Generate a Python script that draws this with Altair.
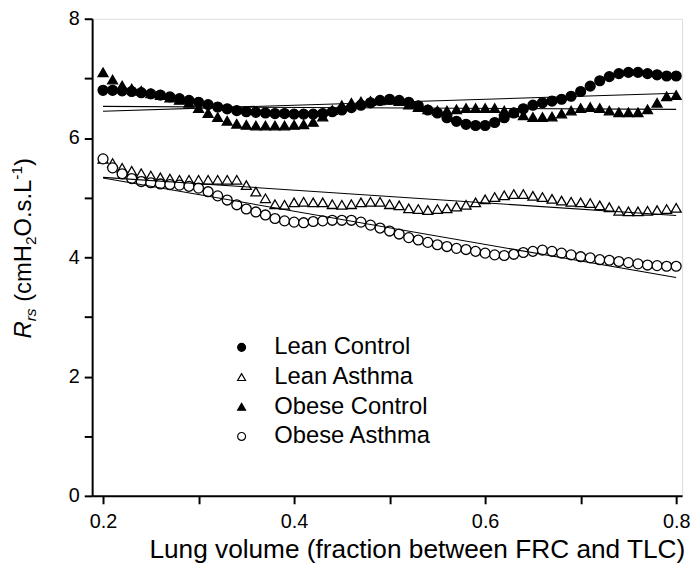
import altair as alt
import pandas as pd

# ---------------- data ----------------
lung_volume = [0.20, 0.21, 0.22, 0.23, 0.24, 0.25, 0.26, 0.27, 0.28, 0.29,
               0.30, 0.31, 0.32, 0.33, 0.34, 0.35, 0.36, 0.37, 0.38, 0.39,
               0.40, 0.41, 0.42, 0.43, 0.44, 0.45, 0.46, 0.47, 0.48, 0.49,
               0.50, 0.51, 0.52, 0.53, 0.54, 0.55, 0.56, 0.57, 0.58, 0.59,
               0.60, 0.61, 0.62, 0.63, 0.64, 0.65, 0.66, 0.67, 0.68, 0.69,
               0.70, 0.71, 0.72, 0.73, 0.74, 0.75, 0.76, 0.77, 0.78, 0.79,
               0.80]

lean_control = [6.80, 6.80, 6.79, 6.78, 6.76, 6.74, 6.72, 6.69, 6.66, 6.63,
                6.60, 6.56, 6.52, 6.49, 6.46, 6.44, 6.43, 6.42, 6.41, 6.41,
                6.40, 6.40, 6.40, 6.41, 6.44, 6.47, 6.51, 6.55, 6.59, 6.63,
                6.65, 6.63, 6.60, 6.54, 6.47, 6.42, 6.34, 6.28, 6.23, 6.21,
                6.21, 6.26, 6.34, 6.42, 6.49, 6.55, 6.59, 6.62, 6.65, 6.70,
                6.78, 6.87, 6.96, 7.03, 7.08, 7.10, 7.10, 7.08, 7.06, 7.04,
                7.04]

lean_asthma = [5.65, 5.58, 5.50, 5.45, 5.41, 5.37, 5.34, 5.32, 5.30, 5.30,
               5.30, 5.30, 5.30, 5.30, 5.30, 5.21, 5.10, 4.99, 4.89, 4.88,
               4.92, 4.93, 4.92, 4.92, 4.89, 4.88, 4.89, 4.92, 4.93, 4.93,
               4.89, 4.87, 4.82, 4.81, 4.79, 4.81, 4.82, 4.85, 4.88, 4.92,
               4.97, 5.01, 5.04, 5.06, 5.06, 5.03, 5.01, 4.98, 4.95, 4.93,
               4.92, 4.91, 4.87, 4.84, 4.78, 4.77, 4.77, 4.78, 4.79, 4.81,
               4.83]

obese_control = [7.10, 6.98, 6.88, 6.83, 6.79, 6.75, 6.72, 6.68, 6.64, 6.59,
                 6.50, 6.42, 6.35, 6.29, 6.24, 6.22, 6.21, 6.21, 6.21, 6.21,
                 6.22, 6.23, 6.27, 6.36, 6.47, 6.55, 6.59, 6.61, 6.62, 6.63,
                 6.64, 6.62, 6.56, 6.52, 6.48, 6.46, 6.46, 6.48, 6.50, 6.50,
                 6.50, 6.50, 6.46, 6.43, 6.38, 6.35, 6.35, 6.36, 6.41, 6.46,
                 6.50, 6.52, 6.50, 6.46, 6.43, 6.43, 6.43, 6.48, 6.59, 6.70,
                 6.72]

obese_asthma = [5.65, 5.50, 5.40, 5.32, 5.27, 5.25, 5.23, 5.22, 5.21, 5.19,
                5.16, 5.10, 5.03, 4.96, 4.88, 4.81, 4.76, 4.71, 4.65, 4.61,
                4.59, 4.58, 4.60, 4.61, 4.62, 4.62, 4.62, 4.59, 4.54, 4.49,
                4.44, 4.39, 4.33, 4.29, 4.25, 4.21, 4.18, 4.15, 4.13, 4.10,
                4.07, 4.04, 4.03, 4.05, 4.08, 4.10, 4.12, 4.10, 4.07, 4.04,
                4.01, 3.99, 3.96, 3.95, 3.93, 3.91, 3.89, 3.87, 3.86, 3.85,
                3.85]

series_names = ["Lean Control", "Lean Asthma", "Obese Control", "Obese Asthma"]
series_shapes = ["circle", "triangle-up", "triangle-up", "circle"]
series_fills = ["black", "white", "black", "white"]
series_strokes = ["black", "black", "black", "black"]

# regression lines (end points)
fit_x = [0.20, 0.80]
fit_lean_control = [6.45, 6.75]
fit_lean_asthma = [5.34, 4.70]
fit_obese_control = [6.53, 6.48]
fit_obese_asthma = [5.33, 3.66]

x_ticks = [0.2, 0.3, 0.4, 0.5, 0.6, 0.7, 0.8]
y_ticks = [0, 1, 2, 3, 4, 5, 6, 7, 8]

# ---------------- tables ----------------
all_series = [lean_control, lean_asthma, obese_control, obese_asthma]
rows = []
for name, vals in zip(series_names, all_series):
    for xv, yv in zip(lung_volume, vals):
        rows.append({"x": xv, "y": yv, "group": name})
pts = pd.DataFrame(rows)

fits_all = [fit_lean_control, fit_lean_asthma, fit_obese_control, fit_obese_asthma]
frows = []
for name, vals in zip(series_names, fits_all):
    for xv, yv in zip(fit_x, vals):
        frows.append({"x": xv, "y": yv, "group": name})
fits = pd.DataFrame(frows)

FONT = "Liberation Sans"

xscale = alt.Scale(domain=[0.1886, 0.8062], nice=False, zero=False)
yscale = alt.Scale(domain=[0, 8], nice=False, zero=False)

x_axis = alt.Axis(
    values=x_ticks,
    labelExpr="round(datum.value*10) % 2 == 0 ? format(datum.value, '.1f') : ''",
    grid=False, tickSize=8, tickWidth=2, tickColor="black",
    domainWidth=2, domainColor="black",
    labelFont=FONT, labelFontSize=20, labelColor="black", labelPadding=8,
    labelFlush=False, labelOverlap=False,
    title="Lung volume (fraction between FRC and TLC)",
    titleFont=FONT, titleFontSize=26.5, titleFontWeight="normal", titleColor="black",
    titleX=328, titleY=62, titleAlign="center", titleBaseline="alphabetic",
    titleAnchor="start",
)
y_axis = alt.Axis(
    values=y_ticks,
    labelExpr="datum.value % 2 == 0 ? datum.value : ''",
    grid=False, tickSize=8, tickWidth=2, tickColor="black",
    domainWidth=2, domainColor="black",
    labelFont=FONT, labelFontSize=20, labelColor="black", labelPadding=5,
    labelFlush=False, labelOverlap=False,
    title=None,
)

legend_kw = dict(
    title=None, orient="none", legendX=139, legendY=320,
    symbolSize=64, labelFontSize=24, labelFont=FONT, labelColor="black",
    labelOffset=21, rowPadding=6, padding=0,
    symbolStrokeColor="black", symbolStrokeWidth=1.2,
)

points = alt.Chart(pts).mark_point(
    filled=True, size=100, strokeWidth=1.3, opacity=1
).encode(
    x=alt.X("x:Q", scale=xscale, axis=x_axis),
    y=alt.Y("y:Q", scale=yscale, axis=y_axis),
    shape=alt.Shape("group:N",
                    scale=alt.Scale(domain=series_names, range=series_shapes),
                    legend=alt.Legend(**legend_kw)),
    fill=alt.Fill("group:N",
                  scale=alt.Scale(domain=series_names, range=series_fills),
                  legend=alt.Legend(**legend_kw)),
    stroke=alt.Stroke("group:N",
                      scale=alt.Scale(domain=series_names, range=series_strokes),
                      legend=alt.Legend(**legend_kw)),
)

lines = alt.Chart(fits).mark_line(color="black", strokeWidth=1.1).encode(
    x=alt.X("x:Q", scale=xscale, axis=x_axis),
    y=alt.Y("y:Q", scale=yscale, axis=y_axis),
    detail="group:N",
)

# y-axis title built from pieces (italic R with subscript, H2O, L^-1)
one = pd.DataFrame({"k": [0]})
def piece(txt, px, py, size, style="normal"):
    return alt.Chart(one).mark_text(
        text=txt, angle=270, align="left", baseline="alphabetic",
        font=FONT, fontSize=size, fontStyle=style, color="black",
    ).encode(x=alt.value(px), y=alt.value(py))

title_pieces = [
    piece("R", -61.4, 323, 24, "italic"),
    piece("rs", -56.4, 305.7, 15.6, "italic"),
    piece("(cmH", -61.4, 286, 24),
    piece("2", -56.4, 228.7, 15.6),
    piece("O.s.L", -61.4, 220, 24),
    piece("-1", -70.4, 162.6, 15.6),
    piece(")", -61.4, 148.7, 24),
]

chart = alt.layer(points, lines, *title_pieces).properties(
    width=596, height=482,
    autosize=alt.AutoSizeParams(type="none"),
    padding={"left": 85, "top": 8, "right": 10, "bottom": 66},
).configure_view(stroke=None).configure(background="white")

chart.save("out.html", embed_options={"renderer": "svg", "actions": False})
